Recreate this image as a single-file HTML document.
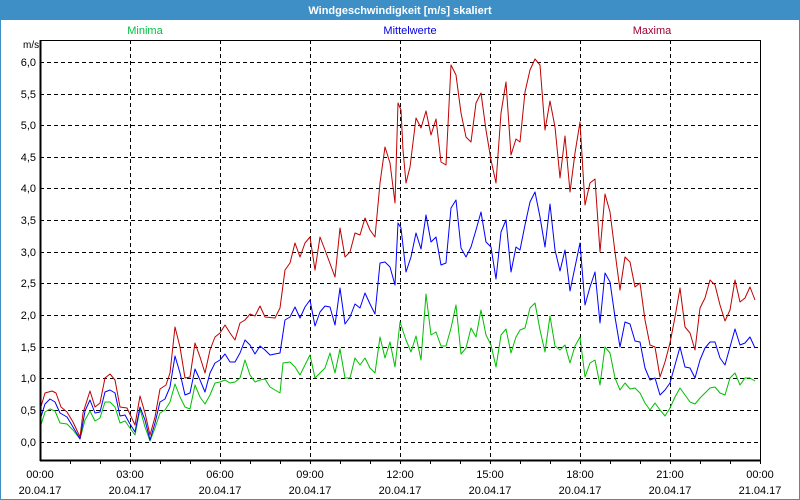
<!DOCTYPE html>
<html><head><meta charset="utf-8"><style>
html,body{margin:0;padding:0;background:#fff}
svg{display:block}
text{font-family:"Liberation Sans",sans-serif;font-size:11px;fill:#000}
</style></head><body>
<svg width="800" height="500" xmlns="http://www.w3.org/2000/svg">
<rect x="0" y="0" width="800" height="500" fill="#3d8fc6"/>
<rect x="1" y="20" width="798" height="479" fill="#fff"/>
<text x="400" y="14" text-anchor="middle" style="fill:#fff;font-weight:bold">Windgeschwindigkeit [m/s] skaliert</text>
<text x="145" y="34" text-anchor="middle" style="fill:#00c040">Minima</text>
<text x="410" y="34" text-anchor="middle" style="fill:#0000e0">Mittelwerte</text>
<text x="652" y="34" text-anchor="middle" style="fill:#a00030">Maxima</text>
<text x="23" y="48" style="font-size:10px">m/s</text>
<g stroke="#000" stroke-dasharray="4,3" stroke-width="1">
<line x1="40" x2="760" y1="62.5" y2="62.5"/><line x1="40" x2="760" y1="94.5" y2="94.5"/>
<line x1="40" x2="760" y1="125.5" y2="125.5"/><line x1="40" x2="760" y1="157.5" y2="157.5"/>
<line x1="40" x2="760" y1="188.5" y2="188.5"/><line x1="40" x2="760" y1="220.5" y2="220.5"/>
<line x1="40" x2="760" y1="252.5" y2="252.5"/><line x1="40" x2="760" y1="283.5" y2="283.5"/>
<line x1="40" x2="760" y1="315.5" y2="315.5"/><line x1="40" x2="760" y1="347.5" y2="347.5"/>
<line x1="40" x2="760" y1="378.5" y2="378.5"/><line x1="40" x2="760" y1="410.5" y2="410.5"/>
<line x1="40" x2="760" y1="442.5" y2="442.5"/>
<line y1="40" y2="460" x1="130.5" x2="130.5"/><line y1="40" y2="460" x1="220.5" x2="220.5"/>
<line y1="40" y2="460" x1="310.5" x2="310.5"/><line y1="40" y2="460" x1="400.5" x2="400.5"/>
<line y1="40" y2="460" x1="490.5" x2="490.5"/><line y1="40" y2="460" x1="580.5" x2="580.5"/>
<line y1="40" y2="460" x1="670.5" x2="670.5"/>
</g>
<g text-anchor="end">
<text x="36" y="66">6,0</text><text x="36" y="98">5,5</text><text x="36" y="129">5,0</text>
<text x="36" y="161">4,5</text><text x="36" y="192">4,0</text><text x="36" y="224">3,5</text>
<text x="36" y="256">3,0</text><text x="36" y="287">2,5</text><text x="36" y="319">2,0</text>
<text x="36" y="351">1,5</text><text x="36" y="382">1,0</text><text x="36" y="414">0,5</text>
<text x="36" y="446">0,0</text>
</g>
<g text-anchor="middle">
<text x="40" y="478">00:00</text><text x="40" y="494">20.04.17</text>
<text x="130" y="478">03:00</text><text x="130" y="494">20.04.17</text>
<text x="220" y="478">06:00</text><text x="220" y="494">20.04.17</text>
<text x="310" y="478">09:00</text><text x="310" y="494">20.04.17</text>
<text x="400" y="478">12:00</text><text x="400" y="494">20.04.17</text>
<text x="490" y="478">15:00</text><text x="490" y="494">20.04.17</text>
<text x="580" y="478">18:00</text><text x="580" y="494">20.04.17</text>
<text x="670" y="478">21:00</text><text x="670" y="494">20.04.17</text>
<text x="760" y="478">00:00</text><text x="760" y="494">21.04.17</text>
</g>
<g fill="none" stroke-width="1" stroke-linejoin="round">
<polyline stroke="#00c000" points="40,428 45,412 50,409 55,411 60,423 67,424 73,430 80,439 85,420 90,411 95,421 100,418 105,402 110,402 115,407 120,423 125,421 130,428 135,435 140,409 145,427 150,441 155,428 160,413 165,410 170,402 175,384 180,397 185,407 190,409 195,385 200,397 205,404 210,395 215,383 220,382 225,380 230,383 235,382 240,378 245,360 250,375 255,382 260,380 265,379 270,387 280,393 283,363 290,362 295,367 300,375 310,355 315,378 325,368 330,353 335,373 340,349 345,378 350,378 355,358 360,365 365,358 370,368 375,373 380,337 385,358 390,342 395,367 400,322 406,340 411,352 416,336 421,360 426,294 431,335 436,332 441,346 446,346 451,328 456,305 461,354 466,348 471,328 476,337 481,310 486,335 491,345 496,367 501,335 506,329 511,353 516,337 520,330 525,328 530,308 535,303 540,330 545,352 550,316 555,346 560,350 565,345 570,363 575,346 580,337 585,377 590,363 595,360 600,385 605,347 610,353 615,378 620,390 625,383 630,389 635,388 640,393 645,403 650,410 655,403 660,410 665,416 670,408 675,397 680,388 685,395 690,402 695,404 700,398 705,393 710,388 715,387 720,393 725,395 730,378 735,373 740,385 745,378 750,378 755,381"/>
<polyline stroke="#0000ff" points="40,420 45,404 50,399 55,402 60,413 67,417 73,427 80,439 85,411 90,400 95,413 100,412 105,392 110,390 115,393 120,416 125,415 130,424 135,432 140,407 145,420 150,440 155,423 160,402 165,399 170,387 175,356 180,373 185,395 190,393 195,369 200,380 205,392 210,373 215,363 220,360 225,354 230,362 235,362 240,353 245,340 250,345 255,354 260,346 265,350 270,355 280,353 285,320 290,317 295,307 300,318 305,307 310,300 315,326 320,312 325,306 330,307 335,325 340,288 345,324 350,317 355,304 360,308 365,293 370,304 375,314 380,263 385,262 390,267 395,285 398,223 401,228 406,272 411,257 416,233 421,249 426,215 431,242 436,237 441,265 446,263 451,208 456,200 461,248 466,257 471,247 476,230 481,212 486,242 491,247 496,279 501,232 506,220 511,272 516,247 520,250 525,225 530,202 535,192 540,217 545,247 550,204 555,250 560,271 565,250 570,291 575,267 580,243 585,305 590,287 595,272 600,323 605,273 610,282 615,317 620,347 625,322 630,324 635,341 640,342 645,368 650,380 655,378 660,395 665,390 670,383 675,365 680,347 685,367 690,368 695,378 700,360 705,348 710,342 715,342 720,358 725,365 730,347 735,329 740,345 745,343 750,337 755,348"/>
<polyline stroke="#c00000" points="40,410 45,393 52,391 56,393 61,407 67,412 73,422 80,437 83,413 90,391 95,407 100,403 105,378 110,374 115,380 120,407 127,408 135,425 140,396 145,413 150,435 155,417 160,389 166,385 170,373 175,327 180,347 185,378 190,377 195,343 200,357 205,373 210,350 215,337 220,333 225,325 230,333 235,340 240,323 245,320 250,314 255,316 260,306 265,317 275,318 280,308 285,270 290,263 295,243 300,257 305,243 310,237 315,270 320,237 325,250 335,277 340,228 345,257 350,252 355,233 360,235 365,218 370,230 375,237 380,183 385,147 390,163 395,203 398,103 401,110 403,150 406,183 410,167 416,118 421,128 426,111 431,135 436,119 441,162 446,165 451,65 456,75 461,113 466,137 471,142 476,103 481,93 486,130 491,160 496,183 501,113 506,82 511,155 516,139 520,142 525,92 530,70 535,59 540,65 545,130 550,101 555,127 560,178 565,136 570,192 575,153 580,122 585,205 590,183 595,179 600,252 605,194 610,212 615,252 620,290 625,257 630,262 635,287 640,283 645,320 650,345 655,347 660,377 665,362 670,343 675,317 680,288 685,327 690,333 695,350 700,308 705,298 710,280 715,285 720,305 725,321 730,310 735,280 740,302 745,298 750,287 755,300"/>
</g>
<rect x="40.5" y="40.5" width="720" height="420" fill="none" stroke="#000" stroke-width="1"/>
<line x1="40.5" y1="40" x2="40.5" y2="461" stroke="#000" stroke-width="2"/>
<line x1="40" y1="460.5" x2="761" y2="460.5" stroke="#000" stroke-width="2"/>
<g stroke="#000">
<line x1="70.5" x2="70.5" y1="460" y2="464"/><line x1="100.5" x2="100.5" y1="460" y2="464"/><line x1="130.5" x2="130.5" y1="460" y2="464"/>
<line x1="160.5" x2="160.5" y1="460" y2="464"/><line x1="190.5" x2="190.5" y1="460" y2="464"/><line x1="220.5" x2="220.5" y1="460" y2="464"/>
<line x1="250.5" x2="250.5" y1="460" y2="464"/><line x1="280.5" x2="280.5" y1="460" y2="464"/><line x1="310.5" x2="310.5" y1="460" y2="464"/>
<line x1="340.5" x2="340.5" y1="460" y2="464"/><line x1="370.5" x2="370.5" y1="460" y2="464"/><line x1="400.5" x2="400.5" y1="460" y2="464"/>
<line x1="430.5" x2="430.5" y1="460" y2="464"/><line x1="460.5" x2="460.5" y1="460" y2="464"/><line x1="490.5" x2="490.5" y1="460" y2="464"/>
<line x1="520.5" x2="520.5" y1="460" y2="464"/><line x1="550.5" x2="550.5" y1="460" y2="464"/><line x1="580.5" x2="580.5" y1="460" y2="464"/>
<line x1="610.5" x2="610.5" y1="460" y2="464"/><line x1="640.5" x2="640.5" y1="460" y2="464"/><line x1="670.5" x2="670.5" y1="460" y2="464"/>
<line x1="700.5" x2="700.5" y1="460" y2="464"/><line x1="730.5" x2="730.5" y1="460" y2="464"/><line x1="760.5" x2="760.5" y1="460" y2="464"/>
</g>
</svg>
</body></html>
